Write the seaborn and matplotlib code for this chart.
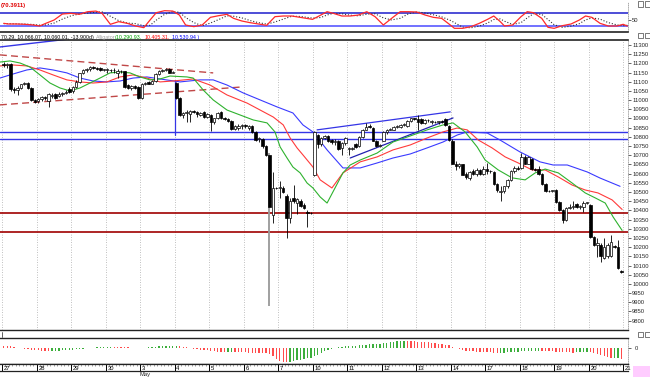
import numpy as np
import matplotlib
matplotlib.use("Agg")
import matplotlib.pyplot as plt
from matplotlib.patches import Rectangle
import seaborn as sns

# ---- data (hourly-ish bars, 10 per session) ----
days = ["27", "28", "29", "30", "3", "4", "5", "6", "7", "10", "11", "12", "13", "14", "17", "18", "19", "20", "21"]

opens = [11195, 11190, 11195, 11060, 11055, 11065, 11085, 11095, 11065, 11000,
         10995, 11005, 11015, 10995, 11020, 11035, 11020, 11035, 11040, 11060,
         11050, 11070, 11100, 11145, 11165, 11168, 11180, 11175, 11175, 11165,
         11165, 11165, 11162, 11150, 11160, 11158, 11080, 11065, 11075, 11070,
         11010, 11085, 11098, 11090, 11105, 11140, 11160, 11165, 11170, 11150,
         11095, 11010, 10920, 10930, 10925, 10940, 10935, 10920, 10935, 10910,
         10920, 10880, 10900, 10935, 10900, 10895, 10885, 10845, 10850, 10860,
         10865, 10850, 10860, 10825, 10790, 10790, 10750, 10700, 10375, 10520,
         10520, 10520, 10480, 10360, 10470, 10440, 10450, 10430, 10390, 10385,
         10590, 10810, 10760, 10795, 10805, 10785, 10770, 10780, 10740, 10765,
         10735, 10735, 10760, 10750, 10800, 10840, 10860, 10850, 10780, 10750,
         10780, 10825, 10840, 10840, 10855, 10855, 10865, 10860, 10885, 10900,
         10895, 10895, 10875, 10890, 10880, 10882, 10880, 10884, 10895, 10860,
         10780, 10655, 10640, 10650, 10600, 10575, 10615, 10600, 10620, 10600,
         10625, 10615, 10610, 10545, 10500, 10505, 10530, 10565, 10615, 10630,
         10630, 10690, 10655, 10680, 10625, 10625, 10600, 10545, 10505, 10505,
         10510, 10445, 10400, 10350, 10415, 10420, 10435, 10420, 10420, 10440,
         10430, 10255, 10212, 10212, 10140, 10150, 10150, 10205, 10203, 10072]
highs = [11210, 11200, 11200, 11070, 11075, 11090, 11100, 11100, 11070, 11005,
         11010, 11020, 11025, 11040, 11040, 11040, 11045, 11045, 11055, 11070,
         11075, 11110, 11150, 11170, 11175, 11185, 11185, 11180, 11180, 11170,
         11175, 11170, 11175, 11170, 11165, 11160, 11090, 11080, 11080, 11075,
         11095, 11100, 11102, 11110, 11145, 11165, 11170, 11172, 11175, 11160,
         11100, 11015, 10935, 10945, 10945, 10945, 10940, 10935, 10940, 10930,
         10925, 10905, 10935, 10940, 10910, 10900, 10890, 10865, 10870, 10870,
         10870, 10865, 10862, 10830, 10800, 10795, 10755, 10710, 10610, 10525,
         10560, 10530, 10490, 10465, 10540, 10470, 10460, 10440, 10400, 10390,
         10830, 10815, 10800, 10810, 10810, 10790, 10790, 10785, 10770, 10800,
         10745, 10745, 10765, 10805, 10845, 10875, 10870, 10855, 10785, 10760,
         10830, 10845, 10850, 10860, 10865, 10870, 10875, 10890, 10905, 10905,
         10920, 10900, 10895, 10898, 10890, 10888, 10888, 10890, 10900, 10865,
         10790, 10670, 10660, 10655, 10610, 10615, 10625, 10630, 10625, 10640,
         10660, 10620, 10615, 10550, 10530, 10535, 10570, 10620, 10640, 10640,
         10710, 10700, 10695, 10685, 10630, 10640, 10605, 10550, 10510, 10510,
         10515, 10450, 10405, 10420, 10435, 10450, 10440, 10430, 10450, 10445,
         10435, 10262, 10250, 10220, 10248, 10225, 10268, 10210, 10240, 10074]
lows = [11180, 11175, 11050, 11040, 11030, 11060, 11080, 11060, 10995, 10985,
        10985, 10995, 11000, 10965, 11010, 11005, 11015, 11025, 11035, 11040,
        11040, 11065, 11095, 11140, 11155, 11160, 11170, 11165, 11160, 11158,
        11150, 11155, 11150, 11120, 11150, 11065, 11060, 11055, 11060, 11005,
        11005, 11080, 11085, 11085, 11100, 11135, 11155, 11158, 11145, 11145,
        11005, 10915, 10905, 10880, 10880, 10930, 10910, 10915, 10900, 10900,
        10830, 10870, 10895, 10895, 10890, 10880, 10840, 10835, 10840, 10845,
        10850, 10835, 10820, 10780, 10770, 10740, 10695, 9880, 10330, 10515,
        10470, 10495, 10250, 10330, 10440, 10380, 10420, 10410, 10310, 10380,
        10585, 10740, 10750, 10790, 10770, 10760, 10755, 10730, 10700, 10755,
        10700, 10730, 10740, 10745, 10795, 10835, 10850, 10775, 10745, 10745,
        10775, 10815, 10835, 10835, 10850, 10850, 10860, 10855, 10880, 10890,
        10840, 10870, 10870, 10880, 10870, 10875, 10872, 10878, 10860, 10780,
        10650, 10620, 10630, 10590, 10570, 10565, 10595, 10585, 10595, 10595,
        10600, 10605, 10540, 10500, 10450, 10495, 10520, 10560, 10605, 10620,
        10625, 10650, 10650, 10620, 10615, 10595, 10540, 10500, 10500, 10500,
        10440, 10395, 10330, 10345, 10405, 10405, 10415, 10410, 10390, 10435,
        10250, 10205, 10145, 10120, 10135, 10140, 10145, 10195, 10082, 10060]
closes = [11190, 11198, 11060, 11055, 11065, 11085, 11095, 11065, 11000, 10992,
          11005, 11015, 11010, 11035, 11030, 11010, 11035, 11040, 11045, 11045,
          11070, 11100, 11145, 11165, 11168, 11180, 11175, 11170, 11162, 11165,
          11165, 11162, 11165, 11160, 11158, 11070, 11065, 11075, 11065, 11010,
          11085, 11095, 11090, 11105, 11140, 11160, 11165, 11165, 11150, 11152,
          11010, 10920, 10930, 10935, 10940, 10935, 10925, 10930, 10910, 10925,
          10880, 10900, 10930, 10900, 10895, 10885, 10845, 10860, 10860, 10865,
          10860, 10860, 10825, 10785, 10792, 10750, 10700, 10420, 10520, 10520,
          10525, 10500, 10360, 10450, 10450, 10460, 10425, 10415, 10385, 10385,
          10825, 10760, 10795, 10805, 10775, 10770, 10780, 10735, 10765, 10795,
          10735, 10738, 10745, 10800, 10840, 10855, 10855, 10780, 10750, 10755,
          10825, 10840, 10842, 10855, 10858, 10865, 10868, 10885, 10900, 10897,
          10880, 10875, 10890, 10892, 10885, 10880, 10884, 10882, 10865, 10785,
          10655, 10640, 10655, 10595, 10580, 10610, 10600, 10620, 10600, 10625,
          10615, 10612, 10545, 10510, 10505, 10530, 10565, 10615, 10630, 10625,
          10690, 10655, 10690, 10625, 10622, 10600, 10545, 10505, 10505, 10510,
          10445, 10400, 10350, 10415, 10420, 10425, 10420, 10422, 10440, 10440,
          10257, 10212, 10220, 10150, 10203, 10212, 10230, 10200, 10085, 10066]

# Alligator lines (bar position, price)
jaw_x = [-1.1, 2.7, 6.7, 10.5, 14.3, 18.3, 22.1, 25.9, 29.9, 33.7, 37.5, 41.5, 45.3, 51.1, 56.9,
         60.7, 64.7, 69.4, 74.3, 79.2, 83.8, 86.7, 89.6, 93.7, 98.3, 103.3, 108.2, 112.8, 117.8,
         122.7, 127.3, 131.4, 134.3, 140.1, 143.8, 149.6, 155.4, 159.2, 163.3, 169.1, 172.8, 178.6]
jaw_y = [11120, 11142, 11164, 11175, 11164, 11148, 11120, 11104, 11099, 11104, 11120, 11126, 11115,
         11099, 11110, 11110, 11082, 11039, 11001, 10963, 10930, 10865, 10827, 10729, 10631, 10631,
         10658, 10685, 10707, 10740, 10772, 10810, 10827, 10821, 10783, 10718, 10664, 10647, 10647,
         10609, 10576, 10531]
teeth_x = [-1.1, 2.7, 6.7, 10.5, 14.3, 18.3, 22.1, 25.9, 29.9, 33.7, 37.5, 41.5, 45.3, 49.1, 54.9,
           59.8, 64.7, 70.5, 74.3, 78.1, 81.0, 83.0, 85.0, 86.7, 89.6, 91.7, 95.1, 98.3, 103.3,
           108.2, 112.8, 117.8, 122.7, 127.3, 131.4, 134.3, 137.5, 141.5, 145.3, 149.1, 153.1,
           156.9, 160.7, 164.7, 168.5, 172.2, 176.3, 179.2]
teeth_y = [11186, 11191, 11186, 11164, 11137, 11110, 11099, 11093, 11099, 11126, 11137, 11120, 11099,
           11104, 11115, 11082, 11028, 10984, 10946, 10908, 10865, 10794, 10740, 10702, 10636, 10566,
           10522, 10604, 10664, 10691, 10729, 10756, 10794, 10827, 10848, 10838, 10783, 10740, 10691,
           10658, 10620, 10620, 10582, 10538, 10511, 10495, 10457, 10405]
lips_x = [-1.1, 1.8, 4.7, 7.6, 10.5, 13.4, 16.3, 19.2, 22.1, 25.0, 27.9, 30.8, 33.7, 36.6, 39.5,
          42.4, 45.3, 48.2, 53.1, 54.9, 57.8, 60.7, 64.7, 68.5, 72.3, 76.3, 78.6, 80.1, 82.1, 83.8,
          85.9, 87.9, 89.6, 91.7, 93.7, 96.0, 98.3, 100.4, 103.3, 108.2, 112.8, 117.8, 122.7, 127.3,
          130.2, 133.7, 137.2, 139.5, 143.3, 147.3, 151.1, 154.0, 156.9, 160.7, 164.7, 168.5, 171.4,
          174.3, 176.6, 179.2]
lips_y = [11207, 11213, 11202, 11180, 11137, 11093, 11066, 11050, 11066, 11093, 11120, 11148, 11153,
          11148, 11126, 11110, 11115, 11131, 11126, 11120, 11055, 11001, 10946, 10919, 10892, 10876,
          10827, 10745, 10685, 10636, 10604, 10549, 10522, 10473, 10440, 10522, 10604, 10647, 10674,
          10712, 10772, 10805, 10838, 10865, 10876, 10827, 10745, 10674, 10620, 10577, 10566, 10604,
          10625, 10604, 10549, 10495, 10468, 10440, 10364, 10291]

# stochastic oscillator (%K red, %D dotted)
stoch_x = [0, 1.3, 3.7, 6.2, 8.6, 10.4, 12.2, 14.6, 17.0, 19.5, 21.9, 24.3, 26.7, 28.5, 30.9,
           33.3, 35.8, 38.2, 40.6, 42.4, 44.2, 46.6, 49.0, 50.9, 52.7, 55.1, 57.5, 59.9, 62.3,
           64.7, 66.6, 69.0, 71.4, 73.8, 76.2, 78.6, 81.0, 83.5, 85.9, 89.5, 91.9, 93.7, 95.5,
           98.0, 100.4, 102.8, 105.2, 107.6, 110.0, 112.4, 114.9, 117.3, 119.7, 122.1, 124.5,
           126.9, 129.4, 130.6, 133.0, 135.4, 137.8, 140.2, 142.0, 143.9, 145.1, 147.5, 149.9,
           151.7, 153.5, 155.9, 157.7, 159.5, 161.9, 164.4, 166.8, 168.6, 170.4, 172.8, 175.2,
           177.7, 179.5, 180.7]
stoch_k = [31.6, 28.4, 28.4, 26.8, 23.5, 18.7, 31.6, 47.7, 76.8, 80, 75.2, 88, 91, 80, 26.8,
           39.7, 31.6, 18.7, 10.6, 47.7, 83.2, 92.9, 91, 71.9, 23.5, 15.5, 23.5, 60.6, 68.7,
           75.2, 55.8, 42.9, 34.8, 28.4, 21.9, 63.9, 67.1, 67.1, 60.6, 50.9, 71.9, 88, 80,
           67.1, 67.1, 71.9, 88, 63.9, 23.5, 55.8, 88, 88, 86.5, 71.9, 60.6, 55.8, 23.5, 7.4,
           7.4, 15.5, 31.6, 50.9, 67.1, 39.7, 18.7, 23.5, 63.9, 88, 83.2, 55.8, 12.3, 7.4, 20.3,
           28.4, 47.7, 67.1, 60.6, 31.6, 18.7, 18.7, 26.8, 18.7]
stoch_d = [30, 30, 29, 28, 26, 23, 24, 33, 52, 68, 77, 81, 86, 87, 66, 45, 33, 30, 20, 22,
           47, 75, 89, 85, 60, 35, 20, 33, 50, 68, 66, 58, 45, 35, 28, 38, 52, 66, 65, 57,
           60, 72, 80, 78, 71, 68, 76, 78, 58, 48, 56, 78, 87, 82, 73, 63, 46, 35, 13, 10,
           18, 33, 50, 53, 42, 26, 35, 58, 78, 75, 50, 25, 12, 18, 30, 48, 58, 52, 35, 24,
           20, 22]

# awesome oscillator histogram, one value per bar
ao = [30, 28, 25, 20, -10, -20, -30, -40, -50, -58,
      -65, -70, -75, -78, -74, -70, -66, -62, -58, -52,
      -45, -38, -30, -22, -15, -8, -2, 5, 12, 18,
      22, 24, 20, 18, 15, 10, 5, 0, -5, -10,
      -8, -5, 5, 12, 18, 25, 30, 35, 38, 40,
      42, 38, 20, 5, -10, -25, -40, -50, -60, -65,
      -70, -80, -90, -95, -100, -98, -95, -100, -105, -108,
      -110, -112, -115, -118, -120, -125, -130, -150, -200, -260,
      -300, -325, -330, -320, -305, -290, -275, -260, -245, -230,
      -200, -160, -120, -80, -50, -30, -10, 5, 15, 25,
      30, 35, 40, 48, 55, 62, 70, 78, 85, 92,
      100, 110, 120, 130, 140, 148, 152, 150, 146, 140,
      135, 130, 125, 118, 110, 100, 90, 80, 65, 50,
      20, -10, -35, -55, -70, -80, -85, -90, -95, -100,
      -105, -110, -120, -130, -125, -118, -110, -100, -95, -90,
      -85, -80, -78, -75, -72, -70, -72, -75, -80, -85,
      -90, -95, -100, -105, -110, -112, -108, -105, -100, -98,
      -105, -120, -140, -165, -190, -215, -240, -235, -230, -250]

support_blue = [10828, 10787]
support_red = [10388, 10281]

sns.set_theme(style="white")
plt.rcParams['font.family'] = ['Liberation Sans', 'DejaVu Sans']

W, H = 650, 377
def box(x0, y0, x1, y1):
    return [x0 / W, 1 - y1 / H, (x1 - x0) / W, (y1 - y0) / H]

fig = plt.figure(figsize=(6.5, 3.77), dpi=100)
fig.patch.set_facecolor("white")
XL = (-1.08, 180.9)
n = len(closes)
idx = np.arange(n)
day_edges = [10 * d - 0.5 for d in range(len(days))]
FS = 4.2

# ---------- stochastic panel ----------
ax_st = fig.add_axes(box(0, 2, 628, 31.5))
ax_st.set_xlim(*XL)
ax_st.set_ylim(-8, 135)
ax_st.axhline(80, color="#1c1ccc", lw=1.1)
ax_st.axhline(20, color="#4a4aff", lw=1.1)
sns.lineplot(x=stoch_x, y=stoch_d, ax=ax_st, color="#333333", lw=0.8, ls=":", estimator=None)
sns.lineplot(x=stoch_x, y=stoch_k, ax=ax_st, color="#ff2a2a", lw=0.9, estimator=None)
ax_st.set_xticks([])
ax_st.yaxis.tick_right()
ax_st.set_yticks([50])
ax_st.set_yticklabels(["50"])
ax_st.tick_params(axis="y", labelsize=FS, length=2, width=0.5, pad=1, right=True)
for s in ["top", "left"]:
    ax_st.spines[s].set_visible(False)
ax_st.spines["bottom"].set_linewidth(1.2)
ax_st.spines["bottom"].set_color("#222222")
ax_st.spines["right"].set_color("#888888")
ax_st.spines["right"].set_linewidth(0.5)
ax_st.spines["right"].set_linestyle(":")
fig.text(1 / W, 1 - 6.5 / H, "(70.3911)", color="#e00000", fontsize=FS, fontweight="bold")

# ---------- main price panel ----------
ax = fig.add_axes(box(0, 40, 628, 329.5))
ax.set_xlim(*XL)
ax.set_ylim(9752, 11327)
for e in day_edges:
    ax.axvline(e, color="#aaaaaa", lw=0.6, ls=(0, (1, 2)), zorder=0)

for v in support_blue:
    ax.axhline(v, color="#3535e6", lw=1.0, zorder=2)
for v in support_red:
    ax.axhline(v, color="#a00000", lw=1.2, zorder=2)

# drawn trend lines
ax.plot([-1.1, 19.2], [11289, 11333], color="#3535e6", lw=1.0, zorder=2)
ax.plot([-1.1, 60.7], [11246, 11148], color="#c04848", lw=1.0, ls=(0, (5, 3)), zorder=2)
ax.plot([-1.1, 69.4], [10974, 11072], color="#c04848", lw=1.0, ls=(0, (5, 3)), zorder=2)
ax.plot([49.6, 49.6], [11110, 10810], color="#3535e6", lw=0.9, zorder=2)
ax.plot([90.8, 129.4], [10838, 10936], color="#3535e6", lw=0.9, zorder=2)
ax.plot([100.4, 130.2], [10685, 10903], color="#2020b0", lw=0.9, zorder=2)

sns.lineplot(x=jaw_x, y=jaw_y, ax=ax, color="#3a3aff", lw=0.8, estimator=None, zorder=3)
sns.lineplot(x=teeth_x, y=teeth_y, ax=ax, color="#ff3a3a", lw=0.8, estimator=None, zorder=3)
sns.lineplot(x=lips_x, y=lips_y, ax=ax, color="#2eb22e", lw=0.8, estimator=None, zorder=3)

o = np.array(opens); h = np.array(highs); l = np.array(lows); c = np.array(closes)
big = (h - l) > 500
ax.vlines(idx[~big], l[~big], h[~big], colors="black", lw=0.6, zorder=4)
ax.vlines(idx[big], l[big], h[big], colors="#999999", lw=1.3, zorder=4)
body_lo = np.minimum(o, c)
body_h = np.maximum(np.abs(c - o), 3)
face = np.where(c >= o, "white", "black")
ax.bar(idx, body_h, bottom=body_lo, width=0.72, color=face, edgecolor="black",
       linewidth=0.5, zorder=5)

ax.set_xticks([])
ax.yaxis.tick_right()
ax.set_yticks(np.arange(9800, 11301, 50))
ax.set_yticklabels([str(v) for v in range(9800, 11301, 50)])
ax.tick_params(axis="y", labelsize=FS, length=2, width=0.5, pad=1, right=True)
ax.spines["left"].set_visible(False)
ax.spines["top"].set_linewidth(1.2)
ax.spines["top"].set_color("#222222")
ax.spines["bottom"].set_linewidth(1.0)
ax.spines["bottom"].set_color("#222222")
ax.spines["right"].set_color("#888888")
ax.spines["right"].set_linewidth(0.5)
ax.spines["right"].set_linestyle(":")

hy = 1 - 38.5 / H
HS = 3.8
fig.text(1 / W, hy, "70.29, 10,066.07, 10,060.01, -13.900d)", color="black", fontsize=HS)
fig.text(96 / W, hy, "Alligator", color="#a0a0a0", fontsize=HS)
fig.text(115 / W, hy, "(10,290.93,", color="#00a000", fontsize=HS)
fig.text(145 / W, hy, "10,405.31,", color="#ff0000", fontsize=HS)
fig.text(172 / W, hy, "10,530.94 )", color="#0000ff", fontsize=HS)

# ---------- awesome oscillator ----------
ax_ao = fig.add_axes(box(0, 338.3, 628, 363.5))
ax_ao.set_xlim(*XL)
ax_ao.set_ylim(-360, 210)
ao_arr = np.array(ao)
ao_col = ["#ff4c4c"] + ["#3cae3c" if ao_arr[i] > ao_arr[i - 1] else "#ff4c4c" for i in range(1, n)]
ax_ao.bar(idx, ao_arr, width=0.38, color=ao_col, linewidth=0)
ax_ao.set_xticks([])
ax_ao.yaxis.tick_right()
ax_ao.set_yticks([0])
ax_ao.set_yticklabels(["0"])
ax_ao.tick_params(axis="y", labelsize=FS, length=2, width=0.5, pad=3, right=True)
ax_ao.spines["left"].set_visible(False)
for s in ["top", "bottom"]:
    ax_ao.spines[s].set_linewidth(1.0)
    ax_ao.spines[s].set_color("#222222")
ax_ao.spines["right"].set_color("#888888")
ax_ao.spines["right"].set_linewidth(0.5)
ax_ao.spines["right"].set_linestyle(":")

# ---------- date strip ----------
ax_dt = fig.add_axes(box(0, 363.5, 628, 371))
ax_dt.set_xlim(*XL)
ax_dt.set_ylim(0, 1)
ax_dt.vlines(idx - 0.5, 0.72, 1, color="#555555", lw=0.4)
ax_dt.vlines(day_edges, 0, 1, color="black", lw=0.7)
for e, lab in zip(day_edges, days):
    ax_dt.text(e + 0.5, 0.35, lab, fontsize=FS, ha="left", va="center", color="black")
ax_dt.set_xticks([])
ax_dt.set_yticks([])
for s in ["left", "right"]:
    ax_dt.spines[s].set_visible(False)
for s in ["top", "bottom"]:
    ax_dt.spines[s].set_linewidth(0.9)
    ax_dt.spines[s].set_color("#222222")
fig.text(140 / W, 1 - 377 / H, "May", fontsize=FS, ha="left", va="bottom")

# ---------- window chrome ----------
fig.patches.append(Rectangle((633 / W, 0), 17 / W, 11 / H, transform=fig.transFigure,
                             facecolor="#ffccff", edgecolor="none"))
for yb in [1.5, 33, 331.5]:
    for xb in [638, 644.5]:
        fig.patches.append(Rectangle((xb / W, 1 - (yb + 5) / H), 5 / W, 5 / H,
                                     transform=fig.transFigure, facecolor="white",
                                     edgecolor="#444444", lw=0.5))
fig.lines.append(plt.Line2D([2 / W, 2 / W], [1 - 336.5 / H, 1 - 332 / H],
                            transform=fig.transFigure, color="#444444", lw=0.6))

fig.savefig("out.png", dpi=100, facecolor="white")
